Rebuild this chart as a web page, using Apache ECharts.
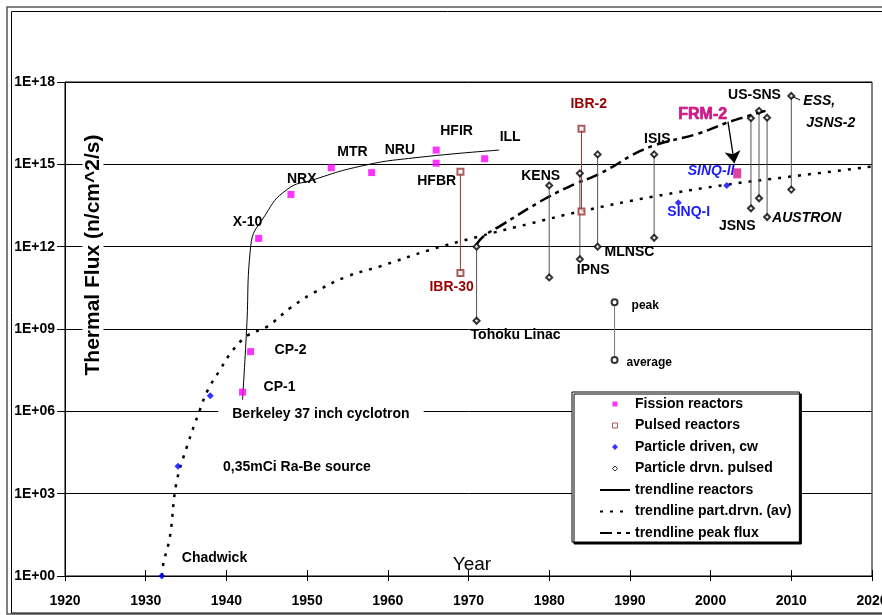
<!DOCTYPE html>
<html>
<head>
<meta charset="utf-8">
<script src="https://cdn.jsdelivr.net/npm/echarts@6/dist/echarts.min.js"></script>
<style>
  html, body { margin: 0; padding: 0; background: #fff; }
  #main { width: 882px; height: 615px; }
</style>
</head>
<body>
<div id="main"></div>
<script>
// fission reactors
var fissionNames = ['CP-1', 'CP-2', 'X-10', 'NRX', 'MTR', 'NRU', 'HFIR', 'HFBR', 'ILL'];
var fissionYears = [1942, 1943, 1944, 1948, 1953, 1958, 1966, 1966, 1972];
var fissionFlux = [5e6, 1.5e8, 2e12, 8e13, 7.5e14, 5e14, 3.3e15, 1.1e15, 1.6e15];
var frm2Year = 2003.3, frm2Flux = 4.7e14;

// pulsed reactors (peak / average)
var pulsedReactorNames = ['IBR-30', 'IBR-2'];
var pulsedReactorYears = [1969, 1984];
var pulsedReactorPeak = [5.4e14, 2e16];
var pulsedReactorAvg = [1.1e11, 1.9e13];

// particle driven, continuous
var cwNames = ['Chadwick', '0,35mCi Ra-Be source', 'Berkeley 37 inch cyclotron', 'SINQ-I', 'SINQ-II'];
var cwYears = [1932, 1934, 1938, 1996, 2002];
var cwFlux = [1, 1e4, 3.7e6, 4e13, 1.7e14];

// particle driven, pulsed (peak / average)
var spallNames = ['Tohoku Linac', 'KENS', 'IPNS', 'MLNSC', 'ISIS', 'JSNS', 'US-SNS', 'AUSTRON', 'ESS'];
var spallYears = [1971, 1980, 1983.8, 1986, 1993, 2005, 2006, 2007, 2010];
var spallPeak = [1e12, 1.7e14, 4.7e14, 2.3e15, 2.3e15, 4.8e16, 8.9e16, 5e16, 3.1e17];
var spallAvg = [2e9, 7.6e10, 3.5e11, 1e12, 2.1e12, 2.5e13, 5.8e13, 1.2e13, 1.2e14];
// which end carries the name
var spallLabelAt = ['avg', 'peak', 'avg', 'avg', 'peak', 'avg', 'peak', 'avg', 'peak'];

// trendlines
var trendReactorYears = [1942, 1942.5, 1943, 1944.8, 1947.5, 1950.7, 1956.9, 1963.1, 1973.8];
var trendReactorFlux = [2.6e6, 9.3e8, 9.8e11, 1.4e13, 1.2e14, 2.7e14, 8.9e14, 1.7e15, 3.3e15];

var trendCwYears = [1932, 1932.2, 1933, 1933.8, 1935.1, 1936.7, 1937.7, 1939.2, 1940.8, 1942.7, 1945, 1947.9, 1950.7, 1954.9, 1959, 1965.2, 1971.4, 1977.6, 1983.8, 1992.8, 2001.9, 2009.7, 2020];
var trendCwFlux = [1, 2.9, 27, 2.4e3, 5.1e4, 1.1e6, 6e6, 3.2e7, 1.7e8, 6e8, 1.2e9, 5.8e9, 2e10, 8.1e10, 1.9e11, 7.6e11, 2.4e12, 6.9e12, 1.9e13, 6.6e13, 1.8e14, 3.5e14, 8.3e14];

var trendPeakYears = [1970.95, 1971.8, 1973.8, 1979.6, 1983.3, 1985.4, 1987.9, 1990.3, 1993.2, 1998.6, 2001.9, 2004.4, 2006.8];
var trendPeakFlux = [1.15e12, 2.3e12, 5.4e12, 5.8e13, 2e14, 3.5e14, 8.3e14, 2.2e15, 5.1e15, 1.35e16, 3.2e16, 5.5e16, 8.9e16];

// key for pulsed sources
var keyYear = 1988.1, keyPeak = 9.4e9, keyMid = 5.7e8, keyAvg = 7.4e7;

var yearTicks = [1920, 2020, 10];

// label placement: [left edge offset, vertical centre offset] from the marker, px
var labelOffsets = {
  'CP-1': [21, -5], 'CP-2': [24, -1], 'X-10': [-26, -16], 'NRX': [-4, -15], 'MTR': [6, -16],
  'NRU': [13, -22], 'HFIR': [4, -19], 'HFBR': [-19, 18], 'ILL': [15, -22],
  'IBR-30': [-31, 14], 'IBR-2': [-11, -24],
  'Chadwick': [20, -18], '0,35mCi Ra-Be source': [45, 1], 'Berkeley 37 inch cyclotron': [8, 18],
  'SINQ-I': [-11, 9], 'SINQ-II': [-39, -14],
  'Tohoku Linac': [-6, 14], 'KENS': [-28, -9], 'IPNS': [-3, 11], 'MLNSC': [7, 5], 'ISIS': [-10, -15],
  'JSNS': [-32, 18], 'US-SNS': [-31, -16], 'AUSTRON': [5, 1], 'ESS': [12, 16],
  'FRM-2': [-59, -59]
};

// legend icons, drawn in a 30 x 6 box
var legendIcons = {
  'Fission reactors': 'path://M0,0M30,6M12.5,0.5h5v5h-5z',
  'Pulsed reactors': 'path://M0,0M30,6M12.5,0.5h5v5h-5z',
  'Particle driven, cw': 'path://M0,0M30,6M15,0L18,3L15,6L12,3Z',
  'Particle drvn. pulsed': 'path://M0,0M30,6M15,0.5L17.5,3L15,5.5L12.5,3Z'
};
var legendIconStyles = {
  'Fission reactors': { color: '#ff00ff' },
  'Pulsed reactors': { color: '#fff', borderColor: '#993333', borderWidth: 1 },
  'Particle driven, cw': { color: '#0000ff' },
  'Particle drvn. pulsed': { color: '#fff', borderColor: '#000', borderWidth: 1 }
};

var FONT = "'Liberation Sans', Arial, sans-serif";

function pairs(xs, ys) {
  return xs.map(function (x, i) { return [x, ys[i]]; });
}

function baseLabel(extra) {
  var l = {
    show: true, position: 'inside', align: 'left', verticalAlign: 'middle',
    fontFamily: FONT, fontSize: 14, fontWeight: 'bold', color: '#000',
    textBorderWidth: 0, textBorderColor: 'transparent', opacity: 1
  };
  for (var k in extra) l[k] = extra[k];
  return l;
}

function named(name, value, extra) {
  var l = baseLabel(extra || {});
  l.formatter = (extra && extra.formatter) || name;
  l.offset = labelOffsets[name];
  return { name: name, value: value, label: l };
}

var labelStyles = {
  'IBR-30': { color: '#990000' }, 'IBR-2': { color: '#990000' },
  'SINQ-I': { color: '#1a1aff' }, 'SINQ-II': { color: '#1a1aff', fontStyle: 'italic' },
  'AUSTRON': { fontStyle: 'italic' },
  'Berkeley 37 inch cyclotron': { backgroundColor: '#fff', padding: [2, 14] },
  'ESS': {
    fontStyle: 'italic', lineHeight: 22,
    formatter: '{a|ESS,}\n{b|JSNS-2}',
    rich: {
      a: { fontStyle: 'italic', fontWeight: 'bold', fontSize: 14, fontFamily: FONT, color: '#000' },
      b: { fontStyle: 'italic', fontWeight: 'bold', fontSize: 14, fontFamily: FONT, color: '#000', padding: [0, 0, 0, 3] }
    }
  }
};

function styledItem(name, value) {
  return named(name, value, labelStyles[name]);
}

// series
var series = [];

series.push({
  name: 'trendline reactors', type: 'line', smooth: 0.5, symbol: 'none',
  data: pairs(trendReactorYears, trendReactorFlux),
  lineStyle: { color: '#000', width: 1 }, itemStyle: { color: 'rgba(0,0,0,0)' }, z: 3
});
series.push({
  name: 'trendline part.drvn. (av)', type: 'line', smooth: 0.4, symbol: 'none',
  data: pairs(trendCwYears, trendCwFlux),
  lineStyle: { color: '#000', width: 2.5, type: [3, 7] }, itemStyle: { color: 'rgba(0,0,0,0)' }, z: 3
});
series.push({
  name: 'trendline peak flux', type: 'line', smooth: 0.4, symbol: 'none',
  data: pairs(trendPeakYears, trendPeakFlux),
  lineStyle: { color: '#000', width: 2.5, type: [12, 5, 4, 5] }, itemStyle: { color: 'rgba(0,0,0,0)' }, z: 3
});

pulsedReactorNames.forEach(function (n, i) {
  series.push({
    type: 'line', symbol: 'none', silent: true, z: 3,
    data: [[pulsedReactorYears[i], pulsedReactorPeak[i]], [pulsedReactorYears[i], pulsedReactorAvg[i]]],
    lineStyle: { color: '#993333', width: 1 }
  });
});
spallNames.forEach(function (n, i) {
  series.push({
    type: 'line', symbol: 'none', silent: true, z: 3,
    data: [[spallYears[i], spallPeak[i]], [spallYears[i], spallAvg[i]]],
    lineStyle: { color: '#555', width: 1 }
  });
});

series.push({
  name: 'Fission reactors', type: 'scatter', symbol: 'rect', symbolSize: 7, z: 5,
  itemStyle: { color: '#ff00ff' },
  data: fissionNames.map(function (n, i) { return styledItem(n, [fissionYears[i], fissionFlux[i]]); })
});

series.push({
  name: 'Pulsed reactors', type: 'scatter', symbol: 'emptyRect', symbolSize: 6, z: 5,
  itemStyle: { color: '#993333', borderColor: '#993333', borderWidth: 1 },
  data: [].concat.apply([], pulsedReactorNames.map(function (n, i) {
    var top = [pulsedReactorYears[i], pulsedReactorPeak[i]];
    var bot = [pulsedReactorYears[i], pulsedReactorAvg[i]];
    return i === 0 ? [{ value: top }, styledItem(n, bot)] : [styledItem(n, top), { value: bot }];
  }))
});

series.push({
  name: 'Particle driven, cw', type: 'scatter', symbol: 'diamond', symbolSize: 7, z: 5,
  itemStyle: { color: '#0000ff' },
  data: cwNames.map(function (n, i) { return styledItem(n, [cwYears[i], cwFlux[i]]); })
});

series.push({
  name: 'Particle drvn. pulsed', type: 'scatter', symbol: 'emptyDiamond', symbolSize: 6, z: 5,
  itemStyle: { color: '#000', borderColor: '#000', borderWidth: 1 },
  data: [].concat.apply([], spallNames.map(function (n, i) {
    var top = [spallYears[i], spallPeak[i]];
    var bot = [spallYears[i], spallAvg[i]];
    return spallLabelAt[i] === 'peak' ? [styledItem(n, top), { value: bot }] : [{ value: top }, styledItem(n, bot)];
  })),
  markLine: {
    silent: true, symbol: ['none', 'none'], label: { show: false },
    lineStyle: { color: '#000', width: 1, type: 'solid' },
    data: [[{ coord: [spallYears[8], spallPeak[8]] }, { coord: [2011.1, 2.2e17] }]]
  }
});

series.push({
  name: 'FRM-2', type: 'scatter', symbol: 'rect', symbolSize: [8, 10], z: 6,
  itemStyle: { color: '#d6168c' },
  data: [named('FRM-2', [frm2Year, frm2Flux], {
    color: '#d6168c', fontWeight: 'bold', fontSize: 16,
    textBorderColor: '#9a0a60', textBorderWidth: 0.6,
    textShadowColor: 'rgba(110,0,60,0.6)', textShadowOffsetX: 1, textShadowOffsetY: 1, textShadowBlur: 0
  })],
  markLine: {
    silent: true, symbol: ['none', 'arrow'], symbolSize: 12, label: { show: false },
    lineStyle: { color: '#000', width: 1.3, type: 'solid' },
    data: [[{ coord: [2002.15, 3.6e16] }, { coord: [2002.95, 1.1e15] }]]
  }
});

// key: peak / average of pulsed sources
series.push({
  type: 'line', symbol: 'emptyCircle', symbolSize: 6, silent: true, z: 4,
  lineStyle: { color: '#777', width: 1 },
  itemStyle: { color: '#333', borderColor: '#333', borderWidth: 1 },
  data: [
    { value: [keyYear, keyPeak], label: baseLabel({ formatter: 'peak', offset: [17, 3], fontSize: 12 }) },
    { value: [keyYear, keyAvg], label: baseLabel({ formatter: 'average', offset: [12, 3], fontSize: 12 }) }
  ]
});
series.push({
  type: 'scatter', symbol: 'none', silent: true, z: 4,
  data: [{ value: [keyYear, keyMid], label: baseLabel({ formatter: 'flux of pulsed sources', offset: [9, 0], fontSize: 12 }) }]
});

var legendNames = ['Fission reactors', 'Pulsed reactors', 'Particle driven, cw', 'Particle drvn. pulsed',
  'trendline reactors', 'trendline part.drvn. (av)', 'trendline peak flux'];

var chart = echarts.init(document.getElementById('main'));
chart.setOption({
  animation: false,
  backgroundColor: '#fff',
  textStyle: { fontFamily: FONT },
  grid: {
    left: 65, right: 10, top: 82, bottom: 39, outerBoundsMode: 'none', containLabel: false,
    show: true, borderColor: '#000', borderWidth: 1, backgroundColor: '#fff'
  },
  legend: {
    orient: 'vertical', left: 572, top: 392,
    padding: [4, 8, 1, 27],
    itemWidth: 30, itemHeight: 6, itemGap: 5.5,
    selectedMode: false,
    backgroundColor: '#fff', borderColor: '#000', borderWidth: 1,
    shadowColor: '#000', shadowBlur: 0, shadowOffsetX: 2, shadowOffsetY: 2,
    textStyle: { fontFamily: FONT, fontSize: 14, fontWeight: 'bold', color: '#000', lineHeight: 16 },
    data: legendNames.map(function (n) {
      var d = { name: n };
      if (legendIcons[n]) { d.icon = legendIcons[n]; d.itemStyle = legendIconStyles[n]; }
      return d;
    })
  },
  xAxis: [{
    type: 'value', min: yearTicks[0], max: yearTicks[1], interval: yearTicks[2],
    axisLine: { lineStyle: { color: '#000', width: 1 } },
    axisTick: { length: 5, lineStyle: { color: '#000' } },
    axisLabel: {
      color: '#000', fontSize: 14, fontWeight: 'bold', fontFamily: FONT, margin: 18,
      formatter: function (v) { return String(v); }
    },
    splitLine: { show: false }
  }, {
    type: 'value', min: yearTicks[0], max: yearTicks[1], interval: yearTicks[2], position: 'bottom',
    axisLine: { show: false },
    axisTick: { inside: true, length: 6, lineStyle: { color: '#000' } },
    axisLabel: { show: false }, splitLine: { show: false }
  }],
  yAxis: {
    type: 'log', logBase: 1000, min: 1, max: 1e18, splitNumber: 6,
    axisLine: { show: true, lineStyle: { color: '#000', width: 1 } },
    axisTick: { show: true, length: 8, lineStyle: { color: '#000' } },
    axisLabel: {
      color: '#000', fontSize: 14, fontWeight: 'bold', fontFamily: FONT, margin: 10,
      formatter: function (v) {
        var p = Math.round(Math.log10(v));
        return '1E+' + (p < 10 ? '0' + p : p);
      }
    },
    splitLine: { show: true, lineStyle: { color: '#000', width: 1 } }
  },
  graphic: [
    { type: 'rect', z: 50, silent: true, shape: { x: 7, y: 7, width: 900, height: 607 }, style: { fill: null, stroke: '#555', lineWidth: 1.5 } },
    { type: 'rect', z: 50, silent: true, shape: { x: 11.5, y: 11.5, width: 900, height: 601.5 }, style: { fill: null, stroke: '#000', lineWidth: 1 } },
    {
      type: 'text', z: 50, x: 93, y: 255, rotation: Math.PI / 2,
      style: {
        text: 'Thermal Flux (n/cm^2/s)', font: 'bold 21px ' + FONT, fill: '#000',
        align: 'center', verticalAlign: 'middle', textAlign: 'center', textVerticalAlign: 'middle',
        backgroundColor: '#fff', padding: [0, 2]
      }
    },
    {
      type: 'text', z: 50, x: 472, y: 565,
      style: {
        text: 'Year', font: '19px ' + FONT, fill: '#000',
        align: 'center', verticalAlign: 'middle', textAlign: 'center', textVerticalAlign: 'middle'
      }
    }
  ],
  series: series
});
</script>
</body>
</html>
